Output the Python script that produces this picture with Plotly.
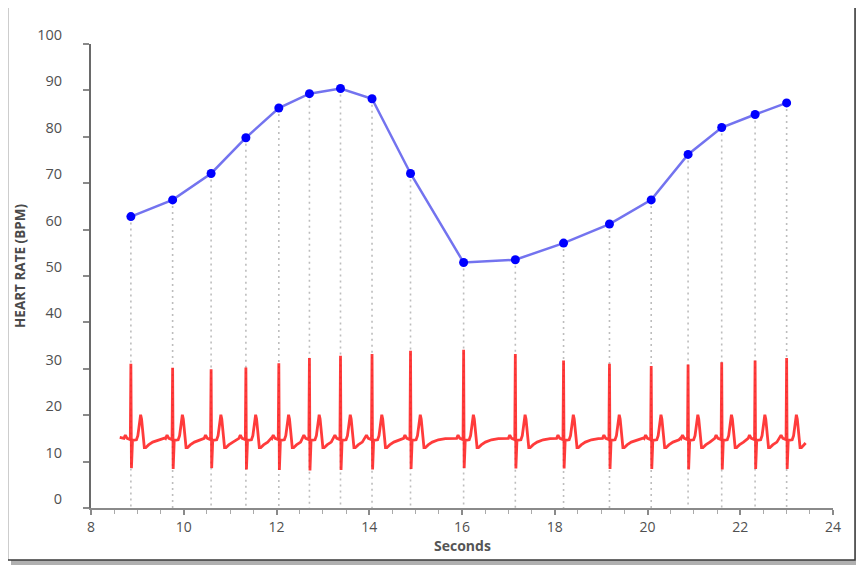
import plotly.graph_objects as go

# ---- data ----
beat_times = [8.86, 9.76, 10.59, 11.34, 12.05, 12.71, 13.38, 14.06, 14.89,
              16.035, 17.15, 18.19, 19.18, 20.08, 20.875, 21.60, 22.32, 23.00]
heart_rate = [62.8, 66.4, 72.1, 79.8, 86.2, 89.3, 90.4, 88.2, 72.1,
              52.9, 53.5, 57.1, 61.2, 66.4, 76.2, 82.0, 84.8, 87.3]
r_peak = [31.1, 30.2, 29.9, 30.3, 31.2, 32.3, 32.8, 33.2, 33.9,
          34.1, 33.2, 31.8, 31.1, 30.6, 30.9, 31.4, 31.8, 32.3]
s_trough = [8.6, 8.4, 8.6, 8.3, 8.2, 8.1, 8.2, 8.3, 8.4,
            8.6, 8.5, 8.5, 8.4, 8.4, 8.3, 8.3, 8.4, 8.4]

# one ECG beat: time offset from the R peak (s) and value
ecg_offsets_before = [-0.15, -0.13, -0.12, -0.105, -0.08, -0.03, -0.012]
ecg_values_before = [15.0, 15.5, 15.7, 15.4, 15.0, 14.8, 15.0]
ecg_offsets_after = [0.035, 0.12, 0.15, 0.21, 0.23, 0.29, 0.32, 0.38, 0.47, 0.60, 0.75]
ecg_values_after = [14.6, 14.7, 15.6, 20.1, 19.2, 13.0, 13.0, 13.6, 14.2, 14.7, 14.95]
ecg_start = (8.62, 15.2)
ecg_end = (23.41, 14.0)
ecg_baseline = 15.1

x_ticks = [8, 10, 12, 14, 16, 18, 20, 22, 24]
y_ticks = [0, 10, 20, 30, 40, 50, 60, 70, 80, 90, 100]

# ---- assemble the ECG trace from the read beat shape ----
ecg_x, ecg_y = [ecg_start[0]], [ecg_start[1]]
for i, t in enumerate(beat_times):
    prev_limit = ecg_x[-1]
    for o, v in zip(ecg_offsets_before, ecg_values_before):
        if t + o > prev_limit:
            ecg_x.append(t + o); ecg_y.append(v)
    ecg_x.append(t); ecg_y.append(r_peak[i])
    ecg_x.append(t + 0.012); ecg_y.append(s_trough[i])
    limit = beat_times[i + 1] - 0.16 if i + 1 < len(beat_times) else ecg_end[0]
    for o, v in zip(ecg_offsets_after, ecg_values_after):
        if t + o < limit:
            ecg_x.append(t + o); ecg_y.append(v)
    if i + 1 < len(beat_times):
        if ecg_x[-1] < limit:
            ecg_x.append(limit); ecg_y.append(ecg_baseline)
ecg_x.append(ecg_end[0]); ecg_y.append(ecg_end[1])

# drop lines from each heart-rate point to the axis
drop_x, drop_y = [], []
for t, h in zip(beat_times, heart_rate):
    drop_x += [t, t, None]
    drop_y += [h, 0, None]

fig = go.Figure()
fig.add_trace(go.Scatter(x=drop_x, y=drop_y, mode="lines",
                         line=dict(color="#bdbdbd", width=1.6, dash="2px,4px"),
                         hoverinfo="skip", showlegend=False))
fig.add_trace(go.Scatter(x=ecg_x, y=ecg_y, mode="lines",
                         line=dict(color="rgba(255,25,25,0.85)", width=2.8),
                         showlegend=False))
fig.add_trace(go.Scatter(x=beat_times, y=heart_rate, mode="lines+markers",
                         line=dict(color="rgba(80,80,235,0.8)", width=2.5),
                         marker=dict(color="#0000ff", size=9),
                         showlegend=False))

# page has an 8px body margin: compensate so the plot lands where the reference has it
OFF = 8
PL, PT, PR, PB = 91, 44, 833, 508      # plot area in page pixels
L, T = PL - OFF, PT - OFF
R, B = 31, 61
pw, ph = PR - PL, PB - PT
W, H = L + pw + R, T + ph + B
def px(x):
    return (x - PL) / pw
def py(y):
    return (PB - y) / ph

fig.update_layout(
    width=W, height=H,
    margin=dict(l=L, r=R, t=T, b=B),
    paper_bgcolor="white", plot_bgcolor="rgba(0,0,0,0)",
    font=dict(family="Open Sans", color="#505050", size=14),
    shapes=[
        dict(type="rect", xref="paper", yref="paper", layer="below",
             x0=px(11), x1=px(860), y0=py(565), y1=py(7),
             fillcolor="#b0b0b0", line=dict(width=0)),
        dict(type="rect", xref="paper", yref="paper", layer="below",
             x0=px(7.5), x1=px(855), y0=py(560), y1=py(3),
             fillcolor="white", line=dict(color="#3a3a3a", width=1.5)),
    ],
    annotations=[
        dict(text="<b>HEART RATE (BPM)</b>", xref="paper", yref="paper",
             x=px(20), y=py(266), textangle=-90, showarrow=False,
             xanchor="center", yanchor="middle",
             font=dict(size=13.5, color="#4a4a4a")),
        dict(text="<b>Seconds</b>", xref="paper", yref="paper",
             x=0.5, y=py(545), showarrow=False,
             xanchor="center", yanchor="middle",
             font=dict(size=14, color="#555555")),
    ],
)
fig.update_xaxes(range=[8, 24], tickvals=x_ticks, showgrid=False, zeroline=False,
                 showline=True, linecolor="#8a8a8a", linewidth=2,
                 ticks="outside", ticklen=5, tickwidth=1.5, tickcolor="#8a8a8a",
                 minor=dict(dtick=0.5, ticks="outside", ticklen=4,
                            tickcolor="#aaaaaa", tickwidth=1),
                 tickfont=dict(size=14, color="#505050"))
fig.update_yaxes(range=[0, 100], tickvals=y_ticks, showgrid=False, zeroline=False,
                 showline=True, linecolor="#6a6a6a", linewidth=2,
                 ticks="outside", ticklen=6, tickwidth=1.5, tickcolor="#8a8a8a",
                 ticklabelshift=-9, ticklabelstandoff=18,
                 tickfont=dict(size=14.5, color="#505050"))

fig.write_html("out.html")
